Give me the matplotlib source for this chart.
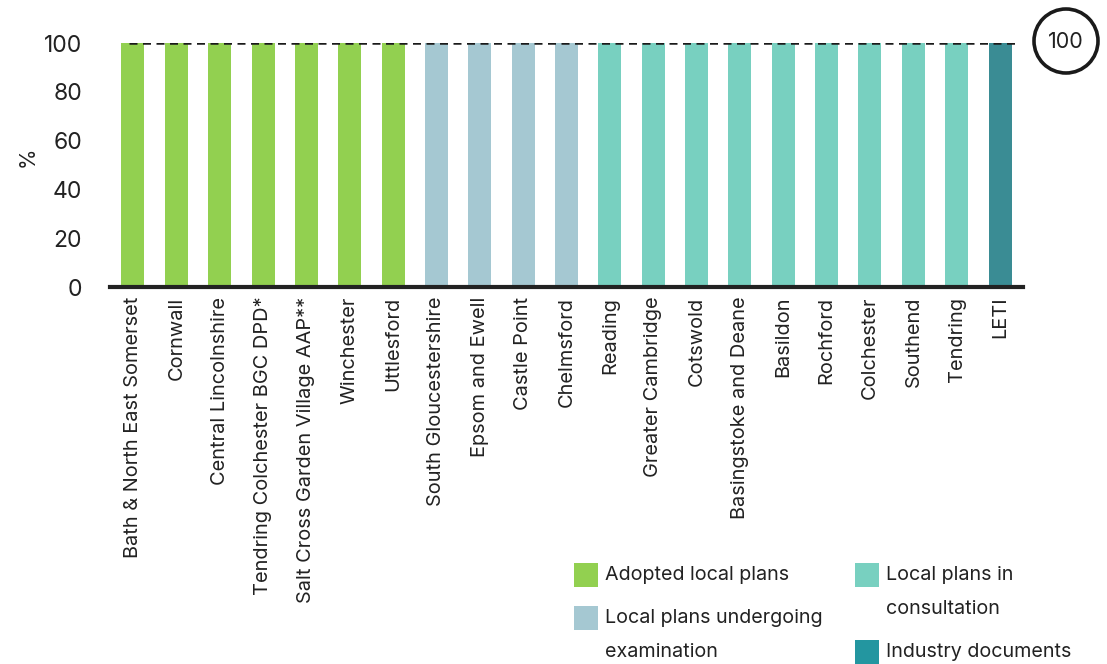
import matplotlib
matplotlib.use("Agg")
import matplotlib.pyplot as plt
from matplotlib.patches import Rectangle, Ellipse

plt.rcParams['font.family'] = ['Inter', 'DejaVu Sans']

categories = [
    "Bath & North East Somerset", "Cornwall", "Central Lincolnshire",
    "Tendring Colchester BGC DPD*", "Salt Cross Garden Village AAP**",
    "Winchester", "Uttlesford", "South Gloucestershire", "Epsom and Ewell",
    "Castle Point", "Chelmsford", "Reading", "Greater Cambridge", "Cotswold",
    "Basingstoke and Deane", "Basildon", "Rochford", "Colchester",
    "Southend", "Tendring", "LETI",
]
values = [100] * len(categories)
groups = (["adopted"] * 7 + ["examination"] * 4 + ["consultation"] * 9
          + ["industry"])

bar_colors = {
    "adopted": "#92d050",
    "examination": "#a5c8d2",
    "consultation": "#78d0c0",
    "industry": "#3a8c94",
}
legend_colors = {
    "adopted": "#92d050",
    "examination": "#a5c8d2",
    "consultation": "#78d0c0",
    "industry": "#2396a0",
}
reference_value = 100

W, H = 1107, 664
fig = plt.figure(figsize=(W / 100, H / 100), dpi=100)
ax = fig.add_axes([110 / W, (H - 287) / H, (1023 - 110) / W, (287 - 43) / H])

x = list(range(len(categories)))
ax.bar(x, values, width=0.53, color=[bar_colors[g] for g in groups], zorder=2)
ax.hlines(reference_value, -0.1, len(categories) - 0.6, colors="#1a1a1a",
          linestyles=(0, (3.2, 2.2)), linewidth=1.8, zorder=3)

ax.set_xlim(-0.53, len(categories) - 0.47)
ax.set_ylim(0, 100)
ax.set_yticks([0, 20, 40, 60, 80, 100])
ax.set_xticks(x)
ax.set_xticklabels(categories, rotation=90, fontsize=14.4, color="#222222")
ax.tick_params(axis="x", length=0, pad=7)
ax.tick_params(axis="y", length=0, pad=20, labelsize=16.5, labelcolor="#222222")
for s in ("top", "right", "left"):
    ax.spines[s].set_visible(False)
ax.spines["bottom"].set_linewidth(3)
ax.spines["bottom"].set_color("#222222")
ax.spines["bottom"].set_zorder(4)
fig.text(28 / W, 1 - 157 / H, "%", rotation=90, ha="center", va="center",
         fontsize=15, color="#222222")

# circled value marker beside the reference line
fig.add_artist(Ellipse((1066 / W, 1 - 41 / H), 64 / W, 64 / H, fill=False,
                       edgecolor="#1a1a1a", linewidth=2.6))
fig.text(1066 / W, 1 - 42 / H, str(reference_value), ha="center", va="center",
         fontsize=15.5, color="#222222")

# legend
def legend_item(px, py, color, lines, line_gap=34):
    fig.add_artist(Rectangle((px / W, 1 - (py + 12) / H), 24 / W, 24 / H,
                             facecolor=color, edgecolor="none"))
    for i, t in enumerate(lines):
        fig.text((px + 31) / W, 1 - (py + i * line_gap) / H, t,
                 ha="left", va="center", fontsize=14.2, color="#222222")

legend_item(574, 575, legend_colors["adopted"], ["Adopted local plans"])
legend_item(574, 618, legend_colors["examination"],
            ["Local plans undergoing", "examination"])
legend_item(855, 575, legend_colors["consultation"],
            ["Local plans in", "consultation"])
legend_item(855, 652, legend_colors["industry"], ["Industry documents"])

fig.savefig("out.png", dpi=100)
